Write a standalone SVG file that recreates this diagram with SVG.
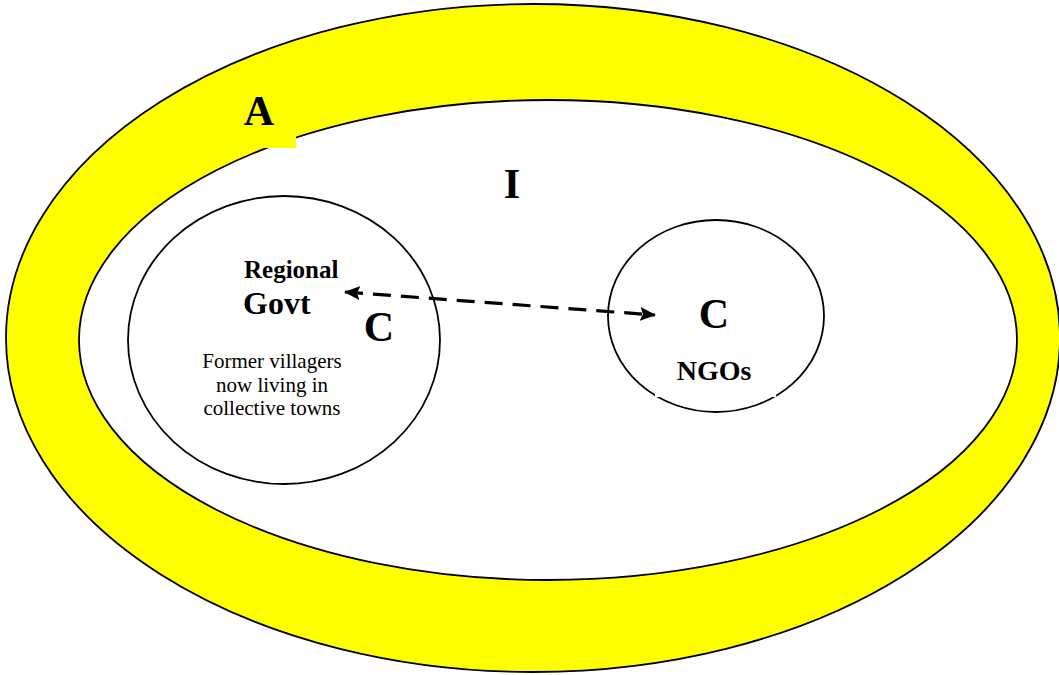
<svg xmlns="http://www.w3.org/2000/svg" width="1059" height="675" viewBox="0 0 1059 675">
<style>
.ring{stroke:#000;stroke-width:1.8}
.lbl{font-family:"Liberation Serif","Times New Roman",serif;font-weight:bold;fill:#000}
.body{font-family:"Liberation Serif","Times New Roman",serif;font-size:21px;fill:#000;text-anchor:middle}
.conn{fill:none;stroke:#000;stroke-width:3.2;stroke-dasharray:18 10}
</style>
<defs>
<marker id="ah" viewBox="0 0 16 14" refX="15" refY="7" markerWidth="16" markerHeight="14" markerUnits="userSpaceOnUse" orient="auto-start-reverse">
<path d="M0,0 L16,7 L0,14 L3,7 Z" fill="#000"/>
</marker>
</defs>
<rect width="1059" height="675" fill="#fff"/>
<g id="node-A">
<ellipse class="ring" cx="533" cy="338" rx="527" ry="334" fill="#ffff00"/>
</g>
<g id="node-I">
<ellipse class="ring" cx="548" cy="340" rx="469" ry="240" fill="#fff"/>
<rect x="240" y="95" width="56" height="53" fill="#ffff00"/>
<text class="lbl" x="259" y="125" font-size="42" text-anchor="middle">A</text>
<text class="lbl" x="512" y="198" font-size="42" text-anchor="middle">I</text>
</g>
<g id="node-C1">
<ellipse class="ring" cx="284" cy="340" rx="156" ry="144" fill="#fff"/>
<text class="lbl" x="244" y="278" font-size="25">Regional</text>
<text class="lbl" x="243" y="314" font-size="32">Govt</text>
<text class="lbl" x="379" y="341" font-size="42" text-anchor="middle">C</text>
<text class="body" x="272" y="368">Former villagers</text>
<text class="body" x="272" y="392">now living in</text>
<text class="body" x="272" y="415">collective towns</text>
</g>
<g id="node-C2">
<ellipse class="ring" cx="716" cy="316" rx="108" ry="96" fill="#fff"/>
<rect x="655" y="338" width="121" height="59" fill="#fff"/>
<text class="lbl" x="714" y="328" font-size="42" text-anchor="middle">C</text>
<text class="lbl" x="714" y="380" font-size="28" text-anchor="middle">NGOs</text>
</g>
<g id="connectors">
<line class="conn" x1="345" y1="292" x2="655" y2="315" marker-start="url(#ah)" marker-end="url(#ah)"/>
</g>
</svg>
